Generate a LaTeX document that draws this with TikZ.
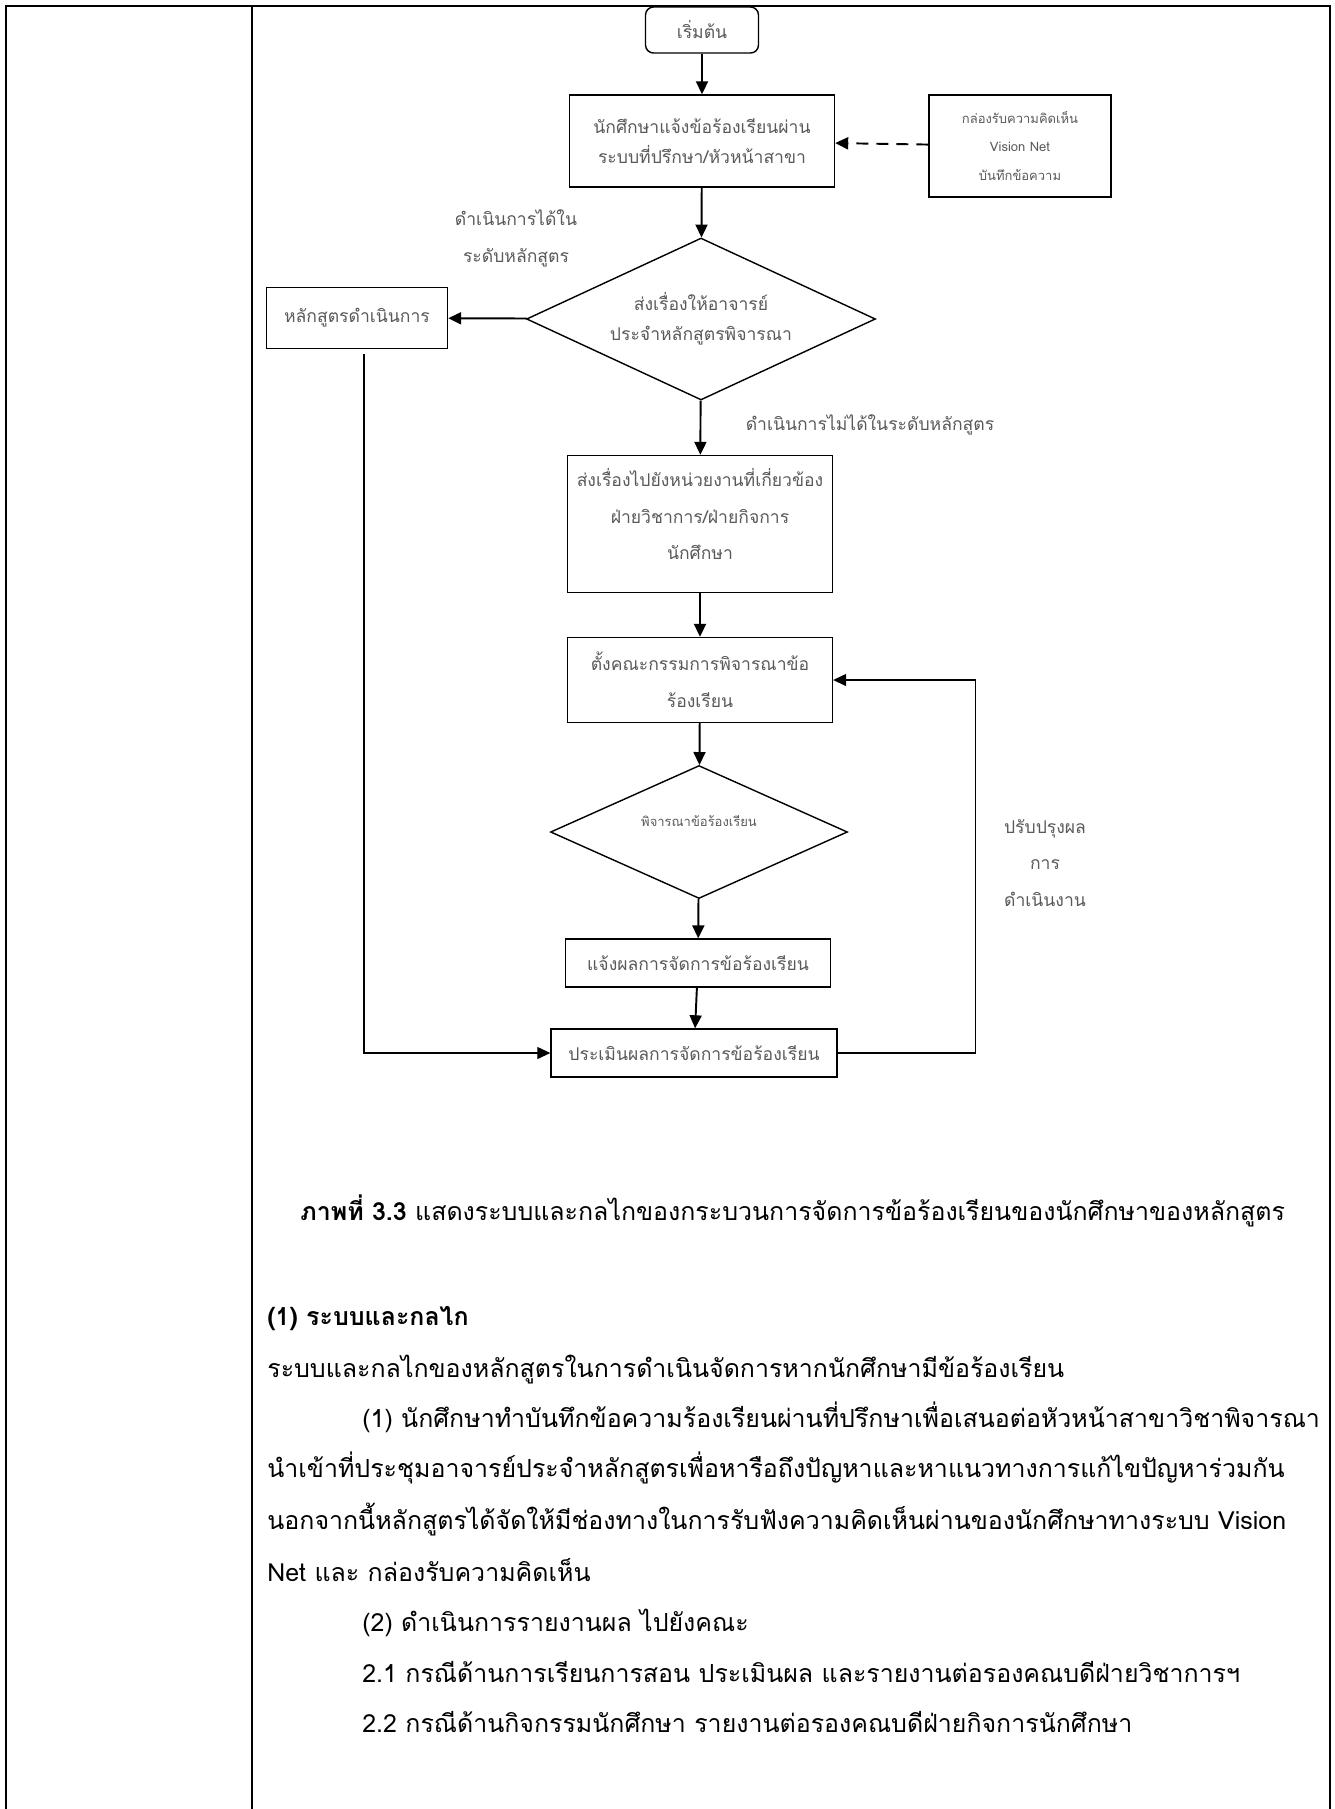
\documentclass[tikz,border=0pt]{standalone}
\usepackage{fontspec}
\setmainfont[Script=Thai]{Loma}
\usepackage{tikz}
\usetikzlibrary{calc, shapes.geometric, arrows.meta}

\newcommand{\flowfont}{\fontsize{10pt}{21pt}\selectfont}
\newcommand{\tinyflow}{\fontsize{7.4pt}{16pt}\selectfont}
\newcommand{\bodyfont}{\fontsize{14.2pt}{20pt}\selectfont}

\tikzset{
	box/.style={draw, line width=0.8pt, inner sep=0pt, align=center, text=black!65, font=\flowfont, minimum width=5.3cm},
	choice/.style={draw, diamond, line width=0.8pt, inner sep=0pt, align=center, text=black!65, font=\flowfont},
	note/.style={align=center, text=black!65, font=\flowfont},
	bodyline/.style={anchor=base west, inner sep=0pt, font=\bodyfont},
	flow/.style={line width=1.1pt, -{Triangle[length=0.26cm, width=0.24cm]}},
}

\begin{document}
\begin{tikzpicture}[x=0.02cm, y=-0.02cm]
	\useasboundingbox (0,0) rectangle (1335,1809);
	
	% table frame
	\begin{scope}[line width=1.15pt]
		\draw (6,1809) -- (6,6) -- (1330,6) -- (1330,1809);
		\draw (252,6) -- (252,1809);
	\end{scope}
	
	% flow chart
	\node[box, rounded corners=0.16cm, minimum width=2.26cm, minimum height=0.92cm] (start) at (702,30) {เริ่มต้น};
	\node[box, minimum height=1.84cm, font=\fontsize{10pt}{17pt}\selectfont] (ask) at (702,141) {นักศึกษาแจ้งข้อร้องเรียนผ่าน\\ระบบที่ปรึกษา/หัวหน้าสาขา};
	\node[box, minimum width=3.64cm, minimum height=2.04cm, font=\tinyflow] (inbox) at (1020,146) {กล่องรับความคิดเห็น\\Vision Net\\บันทึกข้อความ};
	\node[choice, aspect=2.15, minimum width=6.98cm, minimum height=3.24cm, font=\fontsize{10pt}{17pt}\selectfont] (consult) at (701,319) {ส่งเรื่องให้อาจารย์\\ประจำหลักสูตรพิจารณา};
	\node[box, minimum width=3.62cm, minimum height=1.22cm] (course) at (357,318) {หลักสูตรดำเนินการ};
	\node[box, minimum height=2.74cm, text depth=0.4cm] (refer) at (700,524) {ส่งเรื่องไปยังหน่วยงานที่เกี่ยวข้อง\\ฝ่ายวิชาการ/ฝ่ายกิจการ\\นักศึกษา};
	\node[box, minimum height=1.7cm] (commit) at (700,680) {ตั้งคณะกรรมการพิจารณาข้อ\\ร้องเรียน};
	\node[choice, aspect=2.23, minimum width=5.94cm, minimum height=2.66cm, font=\tinyflow, text depth=0.45cm] (judge) at (699,832) {พิจารณาข้อร้องเรียน};
	\node[box, minimum height=0.96cm] (notify) at (698,963) {แจ้งผลการจัดการข้อร้องเรียน};
	\node[box, minimum width=5.72cm, minimum height=0.96cm] (eval) at (694,1053) {ประเมินผลการจัดการข้อร้องเรียน};
	
	\node[note] (inlabel) at (516,238) {ดำเนินการได้ใน\\ระดับหลักสูตร};
	\node[note] (outlabel) at (870,425) {ดำเนินการไม่ได้ในระดับหลักสูตร};
	\node[note] (fblabel) at (1045,863) {ปรับปรุงผล\\การ\\ดำเนินงาน};
	
	\begin{scope}[flow]
		\draw (start) -- (ask);
		\draw (ask) -- (consult);
		\draw (consult) -- (course);
		\draw (consult) -- (refer);
		\draw (refer) -- (commit);
		\draw (commit) -- (judge);
		\draw (judge) -- (notify);
		\draw (notify) -- (eval);
		\draw[dashed, dash pattern=on 0.24cm off 0.16cm] (inbox) -- (ask);
	\end{scope}
	
	\begin{scope}[line width=0.7pt, -{Triangle[length=0.26cm, width=0.24cm]}]
		\draw ($ (course.south) + (7,5) $) |- (eval.west);
		\draw (eval.east) -| ($ (commit.east) + (142,0) $) -- (commit.east);
	\end{scope}
	
	% text below the chart
	\node[bodyline] (caption) at (300,1220) {\textbf{ภาพที่ 3.3} แสดงระบบและกลไกของกระบวนการจัดการข้อร้องเรียนของนักศึกษาของหลักสูตร};
	\node[bodyline] (head) at (267,1325) {\textbf{(1) ระบบและกลไก}};
	\node[bodyline] (line1) at (267,1377) {ระบบและกลไกของหลักสูตรในการดำเนินจัดการหากนักศึกษามีข้อร้องเรียน};
	\node[bodyline] (line2) at (362,1427) {(1) นักศึกษาทำบันทึกข้อความร้องเรียนผ่านที่ปรึกษาเพื่อเสนอต่อหัวหน้าสาขาวิชาพิจารณา};
	\node[bodyline] (line3) at (267,1477) {นำเข้าที่ประชุมอาจารย์ประจำหลักสูตรเพื่อหารือถึงปัญหาและหาแนวทางการแก้ไขปัญหาร่วมกัน};
	\node[bodyline] (line4) at (267,1529) {นอกจากนี้หลักสูตรได้จัดให้มีช่องทางในการรับฟังความคิดเห็นผ่านของนักศึกษาทางระบบ Vision};
	\node[bodyline] (line5) at (267,1581) {Net และ กล่องรับความคิดเห็น};
	\node[bodyline] (line6) at (362,1631) {(2) ดำเนินการรายงานผล ไปยังคณะ};
	\node[bodyline] (line7) at (362,1682) {2.1 กรณีด้านการเรียนการสอน ประเมินผล และรายงานต่อรองคณบดีฝ่ายวิชาการฯ};
	\node[bodyline] (line8) at (362,1732) {2.2 กรณีด้านกิจกรรมนักศึกษา รายงานต่อรองคณบดีฝ่ายกิจการนักศึกษา};
\end{tikzpicture}
\end{document}
